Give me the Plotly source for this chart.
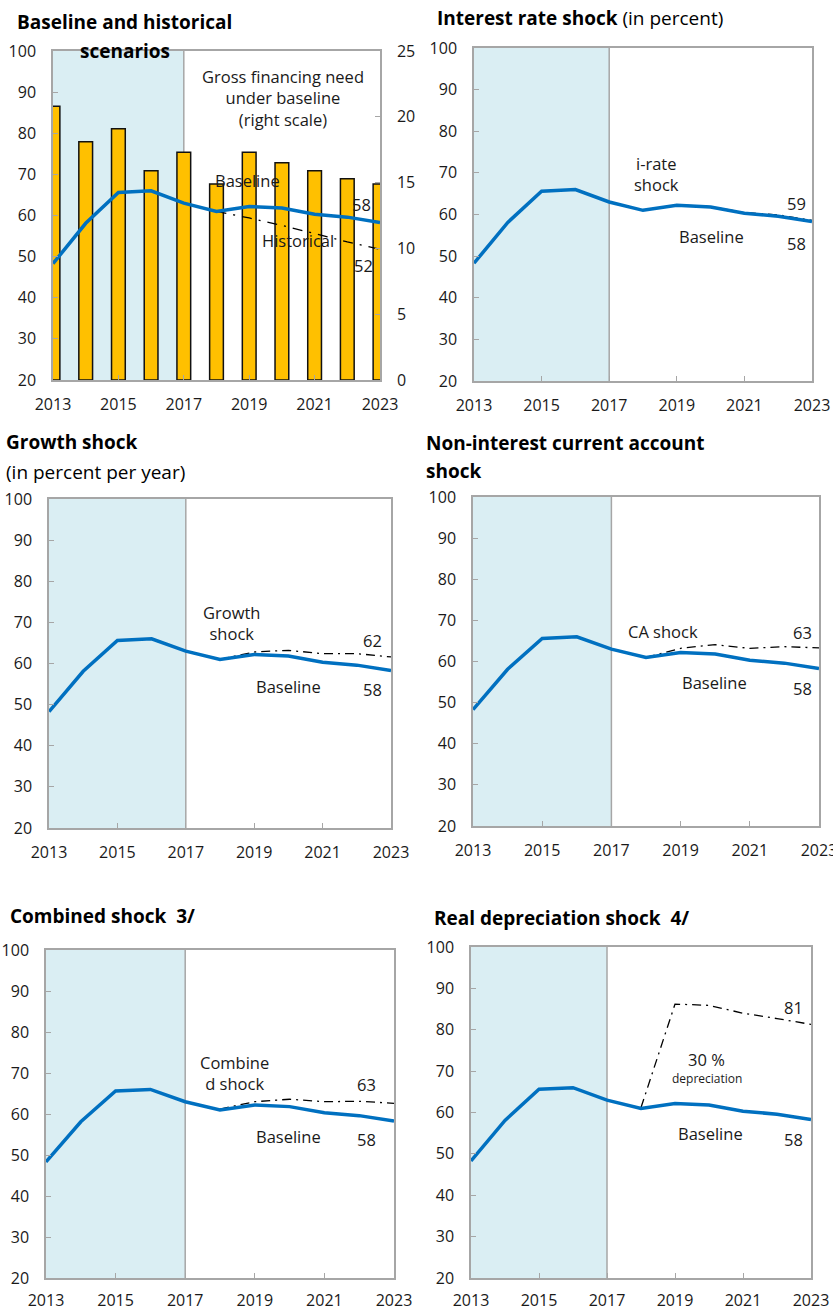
import plotly.graph_objects as go

years = list(range(2013, 2024))
hist_end = 2017
baseline = [48.3, 58.1, 65.6, 66.0, 63.0, 61.0, 62.2, 61.8, 60.3, 59.6, 58.3]
gfn_baseline = [20.8, 18.1, 19.1, 15.9, 17.3, 14.9, 17.3, 16.5, 15.9, 15.3, 14.9]

shock_years = list(range(2018, 2024))
historical = [61.0, 59.4, 57.6, 55.6, 53.6, 51.8]
irate_shock = [61.0, 62.3, 61.9, 60.5, 59.9, 58.6]
growth_shock = [61.0, 62.8, 63.2, 62.4, 62.4, 61.6]
ca_shock = [61.0, 63.2, 64.1, 63.2, 63.6, 63.3]
combined_shock = [61.2, 63.0, 63.6, 63.0, 63.1, 62.6]
depreciation_shock = [61.2, 86.2, 85.9, 84.0, 82.7, 81.3]

W, H = 833, 1311
BLUE = "#0070C0"
SHADE = "#DAEEF3"
FRAME = "#A6A6A6"
FONT = "Open Sans"
TXT = "#1a1a1a"
ASIZE = 16.5

fig = go.Figure()

def px_x(a, b):
    return [a / W, b / W]

def px_y(top, bottom):
    return [1 - bottom / H, 1 - top / H]

panels = [
    ("x", "y2", (53, 380), (51, 380)),
    ("x2", "y3", (474, 812), (48, 381)),
    ("x3", "y4", (49, 391), (499, 828)),
    ("x4", "y5", (473, 819), (497, 826)),
    ("x5", "y6", (46, 394), (950, 1278)),
    ("x6", "y7", (471, 811), (947, 1278)),
]

def axname(a):
    if a.startswith("x"):
        return "xaxis" if a == "x" else "xaxis" + a[1:]
    return "yaxis" if a == "y" else "yaxis" + a[1:]

layout = dict(
    template="none",
    width=W, height=H, margin=dict(l=0, r=0, t=0, b=0, pad=0),
    paper_bgcolor="white", plot_bgcolor="white", showlegend=False,
    font=dict(family=FONT, size=15, color=TXT),
)

tickfont = dict(family=FONT, size=16, color=TXT)

for i, (xa, ya, (x0, x1), (y0, y1)) in enumerate(panels):
    layout[axname(xa)] = dict(
        domain=px_x(x0, x1), range=[2013, 2023], anchor=ya,
        tickvals=[2013, 2015, 2017, 2019, 2021, 2023], ticks="inside", ticklen=5,
        tickcolor=FRAME, showline=True, linecolor=FRAME, linewidth=1.5, mirror=True,
        showgrid=False, zeroline=False, tickfont=tickfont,
        ticklabelstandoff=9 if i < 4 else 7, ticklabeloverflow="allow",
        automargin=False,
    )
    yd = dict(
        domain=px_y(y0, y1), range=[20, 100], anchor=xa, tickvals=list(range(20, 101, 10)),
        ticks="inside", ticklen=5, tickcolor=FRAME, showline=True, linecolor=FRAME,
        linewidth=1.5, showgrid=False, zeroline=False, tickfont=tickfont, ticklabelstandoff=12,
        automargin=False,
    )
    if i == 0:
        yd.update(overlaying="y", side="left")
    else:
        yd.update(mirror=True)
    layout[axname(ya)] = yd
    base_y = "y" if i == 0 else ya
    fig.add_shape(type="rect", xref=xa, yref=base_y + " domain",
                  x0=years[0], x1=hist_end, y0=0, y1=1, fillcolor=SHADE,
                  line=dict(width=0), layer="below")
    fig.add_shape(type="line", xref=xa, yref=base_y + " domain",
                  x0=hist_end, x1=hist_end, y0=0, y1=1, line=dict(color=FRAME, width=1.5),
                  layer="below")

layout["yaxis"] = dict(
    domain=px_y(51, 380), range=[0, 25], anchor="x", side="right",
    tickvals=[0, 5, 10, 15, 20, 25], ticks="inside", ticklen=5, tickcolor=FRAME,
    showline=True, linecolor=FRAME, linewidth=1.5, showgrid=False, zeroline=False,
    tickfont=tickfont, ticklabelstandoff=12, automargin=False,
)

fig.add_trace(go.Bar(x=years, y=gfn_baseline, xaxis="x", yaxis="y", width=0.42,
                     marker=dict(color="#FFC000", line=dict(color="#111111", width=1.5))))

shocks = [historical, irate_shock, growth_shock, ca_shock, combined_shock, depreciation_shock]
for i, (xa, ya, _, _) in enumerate(panels):
    dash = "10px,7px,2px,7px" if i == 0 else "9px,5px,2px,5px"
    fig.add_trace(go.Scatter(x=shock_years, y=shocks[i], xaxis=xa, yaxis=ya, mode="lines",
                             line=dict(color="#000000", width=1.3, dash=dash)))
    fig.add_trace(go.Scatter(x=years, y=baseline, xaxis=xa, yaxis=ya, mode="lines",
                             line=dict(color=BLUE, width=3.5)))

ann = []
def A(text, x, y, xa, ya, size=ASIZE, xanchor="center", xshift=0, yshift=0):
    ann.append(dict(text=text, x=x, y=y, xref=xa, yref=ya, showarrow=False, xanchor=xanchor,
                    yanchor="middle", xshift=xshift, yshift=yshift,
                    font=dict(family=FONT, size=size, color=TXT)))

def endlab(series, xa, ya, xshift, yshift):
    A(f"{round(series[-1])}", shock_years[-1], series[-1], xa, ya,
      xanchor="right", xshift=xshift, yshift=yshift)

# Panel 1
A("Gross financing need<br>under baseline<br>(right scale)", 2020.03, 88.6, "x", "y2")
A("Baseline", 2018.96, 68.4, "x", "y2")
A("Historical", 2020.5, 53.8, "x", "y2")
endlab(baseline, "x", "y2", -7, 18)
endlab(historical, "x", "y2", -5, -16)
# Panel 2
A("i-rate<br>shock", 2018.41, 69.7, "x2", "y3")
A("Baseline", 2020.04, 54.8, "x2", "y3")
endlab(irate_shock, "x2", "y3", -4, 17)
endlab(baseline, "x2", "y3", -4, -22)
# Panel 3
A("Growth<br>shock", 2018.35, 69.8, "x3", "y4")
A("Baseline", 2019.99, 54.5, "x3", "y4")
endlab(growth_shock, "x3", "y4", -7, 16)
endlab(baseline, "x3", "y4", -7, -19)
# Panel 4
A("CA shock", 2018.49, 67.2, "x4", "y5")
A("Baseline", 2019.99, 55.0, "x4", "y5")
endlab(ca_shock, "x4", "y5", -5, 15)
endlab(baseline, "x4", "y5", -5, -20)
# Panel 5
A("Combine<br>d shock", 2018.43, 70.0, "x5", "y6")
A("Baseline", 2019.98, 54.6, "x5", "y6")
endlab(combined_shock, "x5", "y6", -16, 19)
endlab(baseline, "x5", "y6", -16, -19)
# Panel 6
A("30 %", 2019.94, 72.7, "x6", "y7")
A("depreciation", 2019.94, 68.3, "x6", "y7", size=12)
A("Baseline", 2020.03, 55.0, "x6", "y7")
endlab(depreciation_shock, "x6", "y7", -6, 17)
endlab(baseline, "x6", "y7", -6, -20)

def T(text, xpx, ypx, xanchor="left", size=19):
    ann.append(dict(text=text, x=xpx / W, y=1 - ypx / H, xref="paper",
                    yref="paper", showarrow=False, xanchor=xanchor, yanchor="middle",
                    font=dict(family=FONT, size=size, color="#000000")))

T("<b>Baseline and historical</b>", 125, 22, xanchor="center")
T("<b>scenarios</b>", 125, 51, xanchor="center")
T("<b>Interest rate shock</b> (in percent)", 435, 18)
T("<b>Growth shock</b>", 4, 442)
T("(in percent per year)", 4, 472)
T("<b>Non-interest current account</b>", 424, 443)
T("<b>shock</b>", 424, 471)
T("<b>Combined shock  3/</b>", 8, 916)
T("<b>Real depreciation shock  4/</b>", 432, 918)

layout["annotations"] = ann
fig.update_layout(**layout)
fig.write_html("out.html", config={"displayModeBar": False},
               post_script="document.body.style.margin='0px';")
